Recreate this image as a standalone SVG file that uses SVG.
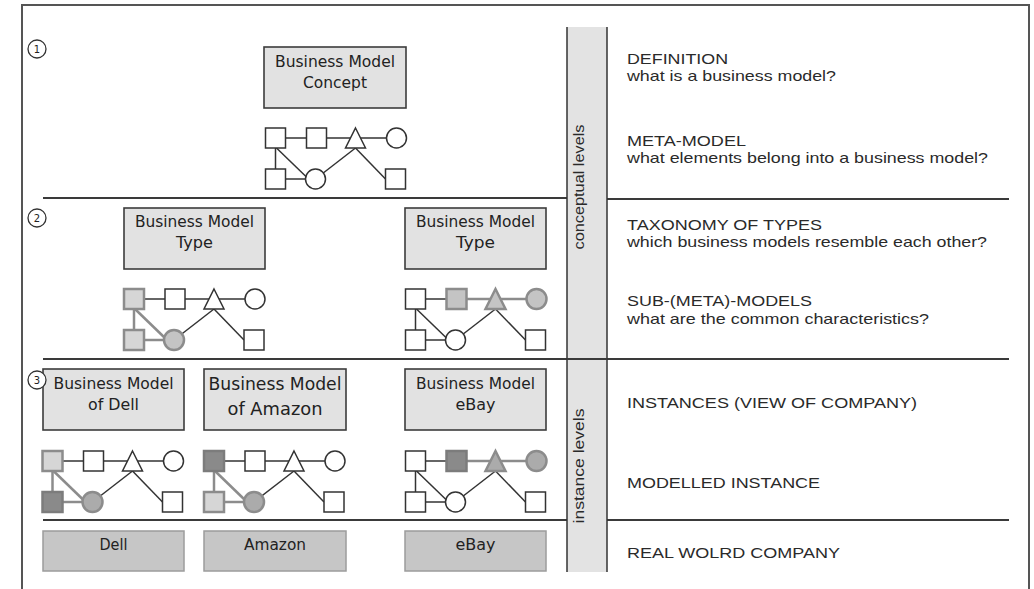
<svg xmlns="http://www.w3.org/2000/svg" width="1034" height="589" viewBox="0 0 1034 589">
<style>
.frame{fill:none;stroke:#555;stroke-width:2}
.sep{stroke:#3a3a3a;stroke-width:1.8;fill:none}
.band{fill:#e3e3e3}
.bandline{stroke:#333;stroke-width:1.5}
.box{fill:#e2e2e2;stroke:#3c3c3c;stroke-width:1.6}
.rbox{fill:#c6c6c6;stroke:#9c9c9c;stroke-width:1.5}
.bt{font-family:"DejaVu Sans",Verdana,sans-serif;font-size:15px;fill:#222;text-anchor:middle}
.bt2{font-family:"DejaVu Sans",Verdana,sans-serif;font-size:17px;fill:#222;text-anchor:middle}
.rt{font-family:"Liberation Sans",Arial,sans-serif;font-size:15px;fill:#2a2a2a}
.vt{font-family:"Liberation Sans",Arial,sans-serif;font-size:14px;fill:#2a2a2a;text-anchor:middle}
.num{fill:#fff;stroke:#333;stroke-width:1.3}
.numt{font-family:"DejaVu Sans",sans-serif;font-size:10px;fill:#222;text-anchor:middle}
.ln{stroke:#333;stroke-width:1.5;fill:none}
.lg{stroke:#8c8c8c;stroke-width:2.5;fill:none}
.n{fill:#fff;stroke:#333;stroke-width:1.5}
.hl{fill:#d6d6d6;stroke:#8c8c8c;stroke-width:2.5}
.hm{fill:#ababab;stroke:#8c8c8c;stroke-width:2.5}
.hd{fill:#8a8a8a;stroke:#7c7c7c;stroke-width:2.5}
.hs{fill:#c4c4c4;stroke:#8c8c8c;stroke-width:2.5}
</style>

<g id="frame">
<path class="frame" d="M22,600 V5 H1029 V600"/>
</g>

<g id="separators">
<line class="sep" x1="43" y1="198" x2="567" y2="198"/>
<line class="sep" x1="607" y1="199" x2="1009" y2="199"/>
<line class="sep" x1="43" y1="359" x2="1009" y2="359"/>
<line class="sep" x1="43" y1="520" x2="567" y2="520"/>
<line class="sep" x1="607" y1="520" x2="1009" y2="520"/>
</g>

<g id="band">
<rect class="band" x="567" y="27" width="40" height="332"/>
<rect class="band" x="567" y="360" width="40" height="212"/>
<line class="bandline" x1="567" y1="27" x2="567" y2="572"/>
<line class="bandline" x1="607" y1="27" x2="607" y2="572"/>
<line class="sep" x1="567" y1="359" x2="607" y2="359"/>
<text class="vt" transform="translate(584,187) rotate(-90)" textLength="125" lengthAdjust="spacingAndGlyphs">conceptual levels</text>
<text class="vt" transform="translate(584,466) rotate(-90)" textLength="115" lengthAdjust="spacingAndGlyphs">instance levels</text>
</g>

<g id="level-numbers">
<circle class="num" cx="37" cy="49" r="9"/><text class="numt" x="37" y="53">1</text>
<circle class="num" cx="37" cy="218" r="9"/><text class="numt" x="37" y="222">2</text>
</g>

<g id="concept">
<rect class="box" x="264" y="47" width="142" height="61"/>
<text class="bt" x="335" y="67" textLength="120" lengthAdjust="spacingAndGlyphs">Business Model</text>
<text class="bt" x="335" y="88" textLength="64" lengthAdjust="spacingAndGlyphs">Concept</text>
</g>

<g id="meta-model" transform="translate(265.5,128)">
<line class="ln" x1="20" y1="10" x2="41" y2="10"/>
<line class="ln" x1="61" y1="10" x2="90" y2="10"/>
<line class="ln" x1="90" y1="10" x2="121" y2="10"/>
<line class="ln" x1="10" y1="20" x2="10" y2="41"/>
<line class="ln" x1="11" y1="20" x2="42" y2="50"/>
<line class="ln" x1="20" y1="51" x2="40" y2="51"/>
<line class="ln" x1="50" y1="51" x2="90" y2="20"/>
<line class="ln" x1="90" y1="20" x2="120" y2="51"/>
<rect class="n" x="0" y="0" width="20" height="20"/>
<rect class="n" x="41" y="0" width="20" height="20"/>
<polygon class="n" points="90,0 100,20 80,20"/>
<circle class="n" cx="131" cy="10" r="10"/>
<rect class="n" x="0" y="41" width="20" height="20"/>
<circle class="n" cx="50" cy="51" r="10"/>
<rect class="n" x="120" y="41" width="20" height="20"/>
</g>

<g id="type-left">
<rect class="box" x="124" y="208" width="141" height="61"/>
<text class="bt" x="194.5" y="227" textLength="119" lengthAdjust="spacingAndGlyphs">Business Model</text>
<text class="bt" x="194.5" y="248" textLength="37" lengthAdjust="spacingAndGlyphs">Type</text>
</g>

<g id="type-left-model" transform="translate(124,289)">
<line class="ln" x1="20" y1="10" x2="41" y2="10"/>
<line class="ln" x1="61" y1="10" x2="90" y2="10"/>
<line class="ln" x1="90" y1="10" x2="121" y2="10"/>
<line class="lg" x1="10" y1="20" x2="10" y2="41"/>
<line class="lg" x1="11" y1="20" x2="42" y2="50"/>
<line class="lg" x1="20" y1="51" x2="40" y2="51"/>
<line class="ln" x1="50" y1="51" x2="90" y2="20"/>
<line class="ln" x1="90" y1="20" x2="120" y2="51"/>
<rect class="hl" x="0" y="0" width="20" height="20"/>
<rect class="n" x="41" y="0" width="20" height="20"/>
<polygon class="n" points="90,0 100,20 80,20"/>
<circle class="n" cx="131" cy="10" r="10"/>
<rect class="hl" x="0" y="41" width="20" height="20"/>
<circle class="hs" cx="50" cy="51" r="10"/>
<rect class="n" x="120" y="41" width="20" height="20"/>
</g>

<g id="type-right">
<rect class="box" x="405" y="208" width="141" height="61"/>
<text class="bt" x="475.5" y="227" textLength="119" lengthAdjust="spacingAndGlyphs">Business Model</text>
<text class="bt" x="475.5" y="248" textLength="39" lengthAdjust="spacingAndGlyphs">Type</text>
</g>

<g id="type-right-model" transform="translate(405.5,289)">
<line class="ln" x1="20" y1="10" x2="41" y2="10"/>
<line class="lg" x1="61" y1="10" x2="90" y2="10"/>
<line class="lg" x1="90" y1="10" x2="121" y2="10"/>
<line class="ln" x1="10" y1="20" x2="10" y2="41"/>
<line class="ln" x1="11" y1="20" x2="42" y2="50"/>
<line class="ln" x1="20" y1="51" x2="40" y2="51"/>
<line class="ln" x1="50" y1="51" x2="90" y2="20"/>
<line class="ln" x1="90" y1="20" x2="120" y2="51"/>
<rect class="n" x="0" y="0" width="20" height="20"/>
<rect class="hs" x="41" y="0" width="20" height="20"/>
<polygon class="hs" points="90,0 100,20 80,20"/>
<circle class="hs" cx="131" cy="10" r="10"/>
<rect class="n" x="0" y="41" width="20" height="20"/>
<circle class="n" cx="50" cy="51" r="10"/>
<rect class="n" x="120" y="41" width="20" height="20"/>
</g>

<g id="dell">
<rect class="box" x="43" y="369" width="141" height="61"/>
<text class="bt" x="113.5" y="389" textLength="120" lengthAdjust="spacingAndGlyphs">Business Model</text>
<text class="bt" x="113.5" y="410" textLength="51" lengthAdjust="spacingAndGlyphs">of Dell</text>
</g>

<g id="level-number-3">
<circle class="num" cx="37" cy="380" r="9"/><text class="numt" x="37" y="384">3</text>
</g>

<g id="dell-model" transform="translate(42.5,451)">
<line class="ln" x1="20" y1="10" x2="41" y2="10"/>
<line class="ln" x1="61" y1="10" x2="90" y2="10"/>
<line class="ln" x1="90" y1="10" x2="121" y2="10"/>
<line class="lg" x1="10" y1="20" x2="10" y2="41"/>
<line class="lg" x1="11" y1="20" x2="42" y2="50"/>
<line class="lg" x1="20" y1="51" x2="40" y2="51"/>
<line class="ln" x1="50" y1="51" x2="90" y2="20"/>
<line class="ln" x1="90" y1="20" x2="120" y2="51"/>
<rect class="hl" x="0" y="0" width="20" height="20"/>
<rect class="n" x="41" y="0" width="20" height="20"/>
<polygon class="n" points="90,0 100,20 80,20"/>
<circle class="n" cx="131" cy="10" r="10"/>
<rect class="hd" x="0" y="41" width="20" height="20"/>
<circle class="hm" cx="50" cy="51" r="10"/>
<rect class="n" x="120" y="41" width="20" height="20"/>
</g>

<g id="amazon">
<rect class="box" x="204" y="369" width="142" height="61"/>
<text class="bt2" x="275" y="390" textLength="133" lengthAdjust="spacingAndGlyphs">Business Model</text>
<text class="bt2" x="275" y="415" textLength="95" lengthAdjust="spacingAndGlyphs">of Amazon</text>
</g>

<g id="amazon-model" transform="translate(204,451)">
<line class="ln" x1="20" y1="10" x2="41" y2="10"/>
<line class="ln" x1="61" y1="10" x2="90" y2="10"/>
<line class="ln" x1="90" y1="10" x2="121" y2="10"/>
<line class="lg" x1="10" y1="20" x2="10" y2="41"/>
<line class="lg" x1="11" y1="20" x2="42" y2="50"/>
<line class="lg" x1="20" y1="51" x2="40" y2="51"/>
<line class="ln" x1="50" y1="51" x2="90" y2="20"/>
<line class="ln" x1="90" y1="20" x2="120" y2="51"/>
<rect class="hd" x="0" y="0" width="20" height="20"/>
<rect class="n" x="41" y="0" width="20" height="20"/>
<polygon class="n" points="90,0 100,20 80,20"/>
<circle class="n" cx="131" cy="10" r="10"/>
<rect class="hl" x="0" y="41" width="20" height="20"/>
<circle class="hm" cx="50" cy="51" r="10"/>
<rect class="n" x="120" y="41" width="20" height="20"/>
</g>

<g id="ebay">
<rect class="box" x="405" y="369" width="141" height="61"/>
<text class="bt" x="475.5" y="389" textLength="119" lengthAdjust="spacingAndGlyphs">Business Model</text>
<text class="bt" x="475.5" y="410" textLength="40" lengthAdjust="spacingAndGlyphs">eBay</text>
</g>

<g id="ebay-model" transform="translate(405.5,451)">
<line class="ln" x1="20" y1="10" x2="41" y2="10"/>
<line class="lg" x1="61" y1="10" x2="90" y2="10"/>
<line class="lg" x1="90" y1="10" x2="121" y2="10"/>
<line class="ln" x1="10" y1="20" x2="10" y2="41"/>
<line class="ln" x1="11" y1="20" x2="42" y2="50"/>
<line class="ln" x1="20" y1="51" x2="40" y2="51"/>
<line class="ln" x1="50" y1="51" x2="90" y2="20"/>
<line class="ln" x1="90" y1="20" x2="120" y2="51"/>
<rect class="n" x="0" y="0" width="20" height="20"/>
<rect class="hd" x="41" y="0" width="20" height="20"/>
<polygon class="hm" points="90,0 100,20 80,20"/>
<circle class="hm" cx="131" cy="10" r="10"/>
<rect class="n" x="0" y="41" width="20" height="20"/>
<circle class="n" cx="50" cy="51" r="10"/>
<rect class="n" x="120" y="41" width="20" height="20"/>
</g>

<g id="company-dell">
<rect class="rbox" x="43" y="531" width="141" height="40"/>
<text class="bt" x="113.5" y="550" textLength="28" lengthAdjust="spacingAndGlyphs">Dell</text>
</g>
<g id="company-amazon">
<rect class="rbox" x="204" y="531" width="142" height="40"/>
<text class="bt" x="275" y="550" textLength="62" lengthAdjust="spacingAndGlyphs">Amazon</text>
</g>
<g id="company-ebay">
<rect class="rbox" x="405" y="531" width="141" height="40"/>
<text class="bt" x="475.5" y="550" textLength="40" lengthAdjust="spacingAndGlyphs">eBay</text>
</g>

<g id="descriptions">
<text class="rt" x="627" y="64" textLength="101" lengthAdjust="spacingAndGlyphs">DEFINITION</text>
<text class="rt" x="627" y="81" textLength="209" lengthAdjust="spacingAndGlyphs">what is a business model?</text>
<text class="rt" x="627" y="146" textLength="119" lengthAdjust="spacingAndGlyphs">META-MODEL</text>
<text class="rt" x="627" y="163" textLength="361" lengthAdjust="spacingAndGlyphs">what elements belong into a business model?</text>
<text class="rt" x="627" y="230" textLength="195" lengthAdjust="spacingAndGlyphs">TAXONOMY OF TYPES</text>
<text class="rt" x="627" y="247" textLength="360" lengthAdjust="spacingAndGlyphs">which business models resemble each other?</text>
<text class="rt" x="627" y="306" textLength="185" lengthAdjust="spacingAndGlyphs">SUB-(META)-MODELS</text>
<text class="rt" x="627" y="324" textLength="302" lengthAdjust="spacingAndGlyphs">what are the common characteristics?</text>
<text class="rt" x="627" y="408" textLength="290" lengthAdjust="spacingAndGlyphs">INSTANCES (VIEW OF COMPANY)</text>
<text class="rt" x="627" y="488" textLength="193" lengthAdjust="spacingAndGlyphs">MODELLED INSTANCE</text>
<text class="rt" x="627" y="558" textLength="213" lengthAdjust="spacingAndGlyphs">REAL WOLRD COMPANY</text>
</g>
</svg>
